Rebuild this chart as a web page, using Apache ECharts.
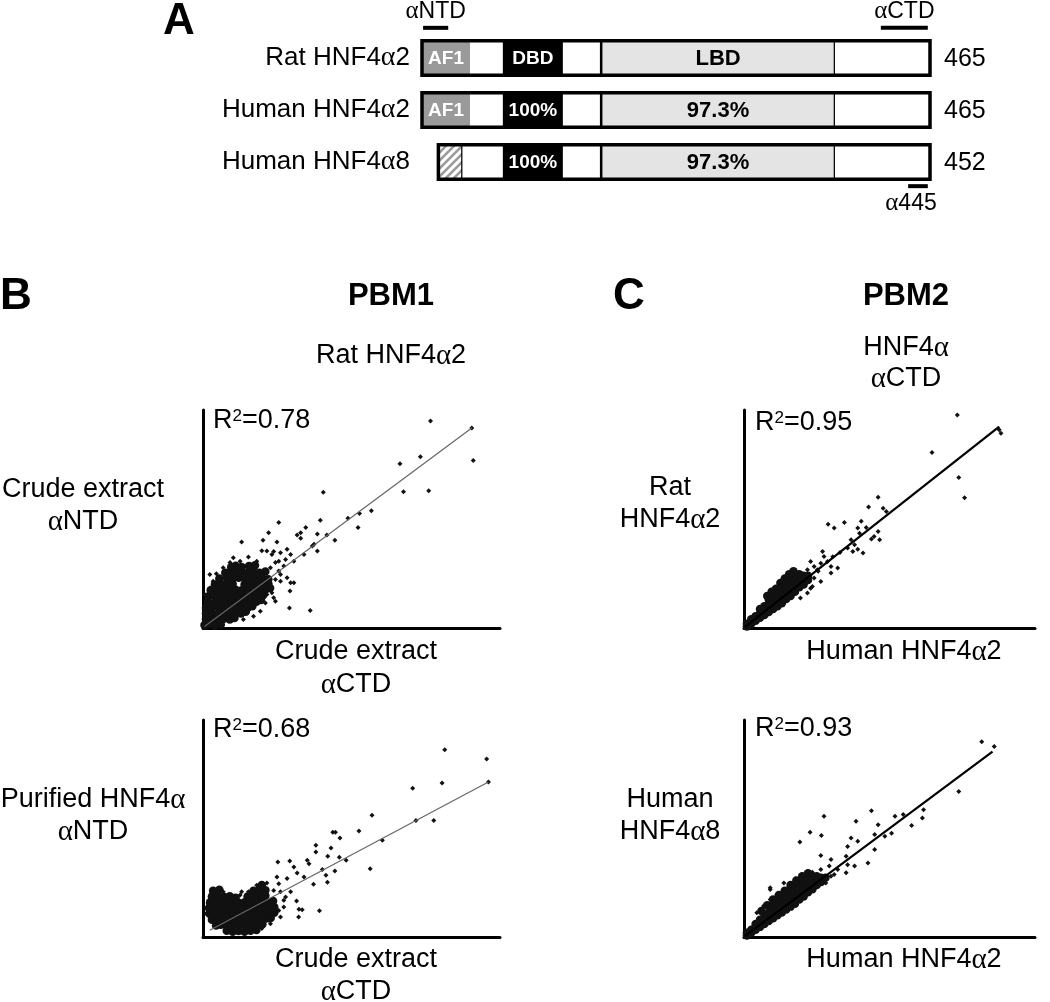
<!DOCTYPE html>
<html><head><meta charset="utf-8">
<script src="https://cdn.jsdelivr.net/npm/echarts@6/dist/echarts.min.js"></script>
<style>html,body{margin:0;padding:0;background:#fff}#c{width:1050px;height:1002px}</style>
</head><body><div id="c"></div>
<script>
// ---------- Panel A data (amino-acid positions in the alignment) ----------
const proteins = ['Rat HNF4α2', 'Human HNF4α2', 'Human HNF4α8'];
const proteinLengths = [465, 465, 452];
const boxStart = [0, 0, 15];
const boxEnd = [465, 465, 465];
// [row, start, end, kind, label]
const domains = [
  [0, 0, 44, 'af1', 'AF1'], [0, 44, 74, 'plain', ''], [0, 74, 129, 'dbd', 'DBD'], [0, 129, 164, 'plain', ''], [0, 164, 378, 'lbd', 'LBD'], [0, 378, 465, 'plain', ''],
  [1, 0, 44, 'af1', 'AF1'], [1, 44, 74, 'plain', ''], [1, 74, 129, 'dbd', '100%'], [1, 129, 164, 'plain', ''], [1, 164, 378, 'lbd', '97.3%'], [1, 378, 465, 'plain', ''],
  [2, 15, 37, 'hatch', ''], [2, 37, 74, 'plain', ''], [2, 74, 129, 'dbd', '100%'], [2, 129, 164, 'plain', ''], [2, 164, 378, 'lbd', '97.3%'], [2, 378, 465, 'plain', '']
];
// [row, start, end, side, label]
const epitopes = [
  [0, 1, 24, 'above', 'αNTD'],
  [0, 420, 463, 'above', 'αCTD'],
  [2, 445, 463, 'below', 'α445']
];

// ---------- Panel B top: crude αNTD vs crude αCTD ----------
const bTopPoints = [[76.6,71.2],[90.5,68.8],[91.0,57.6],[66.3,56.5],[73.2,58.9],[67.5,46.9],[76.0,47.2],[40.5,46.7],[56.7,40.3],[52.7,39.4],[48.8,37.8],[52.2,34.6],[39.5,37.1],[44.4,30.2],[41.7,32.0],[38.5,32.3],[25.5,36.3],[22.1,32.8],[20.2,30.2],[13.0,29.6],[24.9,29.6],[34.6,34.6],[31.7,32.0],[32.9,32.8],[37.4,28.8],[36.8,28.2],[38.5,26.5],[34.0,25.3],[29.5,25.3],[28.3,27.1],[26.1,25.9],[23.8,26.3],[21.5,26.5],[15.3,24.4],[30.6,23.0],[29.5,15.6],[30.6,15.6],[26.1,16.1],[29.3,12.7],[29.1,6.9],[36.1,6.0],[23.2,12.1],[24.4,9.2],[21.0,8.6],[23.8,10.4],[9.1,22.5],[4.5,18.7],[2.3,13.8],[18.1,23.0],[17.0,20.7],[19.8,18.4],[25.5,19.6],[27.2,21.3],[24.4,22.5],[21.0,16.1],[18.1,13.8],[19.3,10.4],[21.5,11.5],[32.9,30.9],
[19.8,26.6],[23.2,25.3],[25.5,23.0],[27.8,23.6],[22.7,20.7],[26.1,18.4],[24.4,16.7],[28.3,17.3],[21.5,17.3],[12.5,23.0],[10.2,24.2],[6.8,20.7],[2.3,18.4],[3.4,16.1],[0.6,11.5],[19.3,5.8],[17.0,4.0],[13.6,2.9]];
const bTopCore = [[0.5,1],[2,1.4],[4,0.8],[6,1.2],
[1,3],[3,3.3],[5,2.8],[7,3.2],[9,2.9],[10.6,3.4],
[1,5],[3,5.2],[5,4.8],[7,5.3],[9,4.9],[11,5.2],[12.8,5],[14.4,5.6],
[1,7],[3,7],[5,7.2],[7,6.8],[9,7.1],[11,7],[13,7.2],[15,6.9],[16.6,7.5],
[1.6,9],[4,9],[6,9.2],[8,8.9],[10,9],[12,9.1],[14,8.9],[16,9.2],[18,9],[19.5,9.6],
[2,11],[4,11.2],[6,11],[8,11],[10,11.1],[12,11],[14,11],[16,11.2],[18,11],[20.2,11.3],
[2.6,13],[5,13.1],[7,12.9],[9,13],[11,13.2],[13,13],[15,13],[17,13.1],[19,12.9],[21,13.2],[22.6,13.8],
[4,15],[6,15.2],[8,15],[10,15.1],[14,15],[16,15.2],[18,15],[20,15.1],[22,15.3],
[5.5,17],[8,17.2],[10,17],[12,17.3],[14,17],[16,17.1],[18,17],[20,17.2],[22,16.8],
[7.5,19],[9,19.3],[11,19],[13,19.2],[15,19],[17,19.3],[19,19],[21,19.4],
[9.5,21],[11,21.4],[13,21],[15.5,21.3],[17.5,21.6]];
const bTopFit = [[0.5,0.5],[90.5,68.8]];

// ---------- Panel C top: rat HNF4α2 vs human HNF4α2 ----------
const cTopPoints = [[73.3,73.3],[87.7,68.2],[88.3,67.0],[64.6,60.4],[73.8,51.8],[75.8,44.8],[46.1,45.0],[42.8,41.6],[47.8,41.2],[48.9,40.1],[34.5,36.3],[28.9,35.7],[31.0,34.4],[40.3,36.7],[39.1,34.4],[42.0,34.6],[39.7,32.6],[46.1,33.2],[44.7,31.5],[46.6,30.4],[43.8,30.6],[36.8,30.4],[38.0,28.6],[35.6,27.5],[37.4,26.3],[40.9,25.8],[39.1,27.1],[27.0,26.3],[27.5,24.6],[28.7,22.9],[29.9,21.2],[26.4,22.3],[22.9,22.9],[24.1,21.2],[21.8,20.0],[25.2,20.0],[16.5,19.1],[15.4,17.2],[12.5,15.5],[19.4,18.3],[18.9,14.3],[20.6,15.5],[22.9,13.7],[21.8,12.0],[19.4,10.3],[25.5,19.5],[30.5,24.5],[33.0,26.0],
[21.8,16.6],[24.1,17.2],[18.3,16.0],[14.8,16.0],[10.2,11.5],[23.5,14.3],[26.4,16.0],[29.9,18.9],[32.2,20.6]];
const cTopCore = [[1,0.5],[1,1.5],[2.5,1.5],[2.5,3],[4,2.5],[4,4],[5.5,3.5],[5.5,5],[5.5,6.5],
[7,4.5],[7,6],[7,7.5],[8.5,5.5],[8.5,7],[8.5,8.5],[8.5,10],[10,6.5],[10,8],[10,9.5],[10,11],
[11.5,7.5],[11.5,9],[11.5,10.5],[11.5,12],[13,8.5],[13,10],[13,11.5],[13,13],[13,14.5],
[14.5,10],[14.5,11.5],[14.5,13],[14.5,14.5],[14.5,16],[16,11],[16,12.5],[16,14],[16,15.5],[16,17],
[17.5,12.5],[17.5,14],[17.5,15.5],[17.5,17],[19,14],[19,15.5],[19,17],[19,18.5],
[20.5,15],[20.5,16.5],[20.5,18],[22,16.5],[22,18],
[8,11],[9.5,12.5],[11,13.5],[12.5,15.5],[14,17],[15.5,18.5],[17,19.5]];
const cTopFit = [[0.3,0.3],[87.7,69.3]];

// ---------- Panel B bottom: purified αNTD vs crude αCTD ----------
const bBotPoints = [[81.4,64.7],[95.5,61.5],[96.1,53.6],[80.5,53.2],[70.6,51.4],[71.7,40.3],[77.7,40.3],[56.9,42.1],[52.5,36.6],[43.7,36.2],[44.6,36.2],[46.1,34.2],[60.4,33.4],[38.0,31.7],[43.1,30.8],[38.0,29.4],[42.0,27.9],[45.9,27.6],[48.2,26.5],[35.1,26.5],[35.7,25.3],[25.2,25.9],[29.2,26.3],[30.6,24.2],[56.3,23.6],[44.4,22.8],[40.2,23.3],[41.4,21.3],[41.9,18.9],[37.2,18.2],[34.0,20.7],[31.7,22.1],[28.3,20.2],[25.5,18.4],[31.5,12.4],[32.3,9.6],[33.4,9.4],[32.2,6.9],[39.2,9.1],[29.5,15.6],[27.8,13.8],[27.2,10.4],[23.8,8.1],[22.1,5.8],[13.0,15.6],[21.5,18.7],[18.1,17.9],[23.8,16.1],[24.9,20.7],
[4.0,16.1],[6.8,15.6],[12.5,14.5],[15.3,15.6],[26.1,15.6],[27.2,12.7],[25.5,9.2],[26.1,6.9],[22.7,4.6],[19.8,2.9],[1.7,11.5],[1.1,8.1]];
const bBotCore = [[8,2.2],[10,1.8],[12,2.1],[14,1.8],[16,2.2],[18,2.4],
[4.4,4],[6,4.2],[8,3.9],[10,4.1],[12,4],[14,4.2],[16,3.9],[18,4.1],[20,4.4],
[3,6],[5,6.1],[7,5.9],[9,6],[11,6.2],[13,6],[15,5.8],[17,6.1],[19,6],[21,6.3],[22.8,6.6],
[2.2,8],[4,8.1],[6,7.9],[8,8],[10,8.2],[12,8],[14,7.9],[16,8.1],[18,8],[20,8.2],[22,8],[24,8.4],
[2,10],[4,10.2],[6,9.9],[8,10],[10,10.1],[12,9.9],[14,10],[16,10.2],[18,10],[20,9.9],[22,10.1],[24,10.3],
[2.4,12],[4,12.2],[6,11.9],[8,12],[10,12.2],[12,11.8],[14,12],[16,12.1],[18,12],[20,12.2],[22,11.8],[23.6,12.4],
[3,14],[5,14.2],[7,13.9],[9,14.1],[11,13.6],[15,14],[17,14.2],[19,14],[21,14.3],
[3.4,16],[5.5,16.3],[17,16],[19,16.4],[21,16.2],[19.8,18]];
const bBotFit = [[2.3,2.3],[96.1,53.6]];

// ---------- Panel C bottom: human HNF4α8 vs human HNF4α2 ----------
const cBotPoints = [[81.7,67.5],[86.0,65.8],[73.8,50.3],[61.7,44.0],[61.3,41.1],[57.6,38.5],[54.7,42.3],[51.9,41.7],[43.8,43.6],[46.1,38.8],[38.5,40.0],[36.8,34.2],[35.6,31.3],[39.1,33.1],[44.9,35.4],[48.4,34.8],[50.7,35.9],[44.9,30.2],[42.6,25.6],[27.5,41.7],[22.7,36.2],[26.6,35.1],[19.2,32.8],[26.4,28.2],[35.1,27.9],[35.6,25.0],[38.0,24.5],[35.1,22.2],[29.9,26.8],[29.3,24.5],[23.5,22.4],[26.4,23.3],[32.2,23.3],[31.0,21.6],[27.0,19.9],[21.2,19.3],[13.7,18.7],[9.0,17.0],[16.0,17.6],[9.0,13.0],[17.7,20.1],[20.0,21.6],
[9.0,16.4],[11.3,14.7],[13.7,16.4],[16.0,18.1],[22.3,21.6],[25.2,20.4],[28.1,18.7],[29.9,21.0],[24.7,17.2],[21.8,15.3],[6.7,10.7],[4.4,8.4]];
const cBotCore = [[1,0.5],[1,1.5],[2.5,1.5],[2.5,2.5],[4,2.5],[4,3.5],[4,4.5],[5.5,3.5],[5.5,4.5],[5.5,6],
[7,4.5],[7,5.5],[7,7],[8.5,5.5],[8.5,7],[8.5,8.5],[10,6.5],[10,8],[10,9.5],[10,11],
[11.5,7.5],[11.5,9],[11.5,10.5],[11.5,12],[13,8.5],[13,10],[13,11.5],[13,13],
[14.5,9.5],[14.5,11],[14.5,12.5],[14.5,14],[16,10.5],[16,12],[16,13.5],[16,15],[16,16.5],
[17.5,11.5],[17.5,13],[17.5,14.5],[17.5,16],[17.5,17.5],[19,13],[19,14.5],[19,16],[19,17.5],[19,19],
[20.5,14],[20.5,15.5],[20.5,17],[20.5,18.5],[20.5,20],[22,15.5],[22,17],[22,18.5],[22,20],
[23.5,16.5],[23.5,18],[23.5,19.5],[23.5,21],[25,18],[25,19.5],[25,21],[26.5,19],[26.5,20.5],[28,20.5],
[6,9],[8,11],[10,13],[12,14.5],[14,16],[16,18],[18,19.5],[20,21],[22,22]];
const cBotFit = [[0.3,0.3],[85.4,64.1]];

// ---------- rendering ----------
const SANS = 'Liberation Sans';
const SERIF = 'Liberation Serif';
function richA(s) { return s.replace(/α/g, '{a|α}').replace(/\^2/g, '{s|2}'); }
function T(text, x, y, o) {
  o = o || {};
  const size = o.size || 27;
  return {
    type: 'text', x: x, y: y, z: 10,
    style: {
      text: richA(text), fill: '#000', fontFamily: SANS, fontSize: size,
      fontWeight: o.bold ? 'bold' : 'normal', align: o.align || 'center', verticalAlign: 'middle',
      rich: {
        a: { fontFamily: SERIF, fontSize: size + 2, fill: '#000' },
        s: { fontFamily: SANS, fontSize: Math.round(size * 0.62), fill: '#000', verticalAlign: 'top', lineHeight: 20 }
      }
    }
  };
}

// hatch pattern canvas
const hc = document.createElement('canvas');
hc.width = 8; hc.height = 8;
const hx = hc.getContext('2d');
hx.fillStyle = '#fff'; hx.fillRect(0, 0, 8, 8);
hx.strokeStyle = '#9a9a9a'; hx.lineWidth = 2.6;
hx.beginPath(); hx.moveTo(-2, 10); hx.lineTo(10, -2); hx.stroke();
hx.beginPath(); hx.moveTo(-2, 2); hx.lineTo(2, -2); hx.stroke();
hx.beginPath(); hx.moveTo(6, 10); hx.lineTo(10, 6); hx.stroke();

const fills = { af1: '#9a9a9a', plain: '#ffffff', dbd: '#000000', lbd: '#e4e4e4', hatch: { image: hc, repeat: 'repeat' } };
const textFill = { af1: '#fff', dbd: '#fff', lbd: '#000' };
const textSize = { af1: 19, dbd: 19, lbd: 22 };
const BOXFRAC = 0.66;

const scatterGrids = [
  { left: 203, top: 410, width: 297, height: 218 },
  { left: 744, top: 410, width: 291, height: 218 },
  { left: 203, top: 720, width: 297, height: 217 },
  { left: 744, top: 720, width: 291, height: 217 }
];
const panels = [
  { pts: bTopPoints, core: bTopCore, fit: bTopFit, thin: true },
  { pts: cTopPoints, core: cTopCore, fit: cTopFit, thin: false },
  { pts: bBotPoints, core: bBotCore, fit: bBotFit, thin: true },
  { pts: cBotPoints, core: cBotCore, fit: cBotFit, thin: false }
];

const grid = scatterGrids.concat([{ left: 422, top: 32, width: 508, height: 156 }]);
const xAxis = [], yAxis = [], series = [];
scatterGrids.forEach((g, i) => {
  xAxis.push({ type: 'value', gridIndex: i, min: 0, max: 100,
    axisLine: { show: true, onZero: false, lineStyle: { color: '#000', width: 3 } },
    axisTick: { show: false }, axisLabel: { show: false }, splitLine: { show: false } });
  yAxis.push({ type: 'value', gridIndex: i, min: 0, max: 75,
    axisLine: { show: true, onZero: false, lineStyle: { color: '#000', width: 3 } },
    axisTick: { show: false }, axisLabel: { show: false }, splitLine: { show: false } });
  const p = panels[i];
  series.push({ type: 'scatter', xAxisIndex: i, yAxisIndex: i, data: p.core, symbol: 'circle', symbolSize: 8.5,
    itemStyle: { color: '#111', opacity: 1 }, silent: true, z: 2 });
  series.push({ type: 'scatter', xAxisIndex: i, yAxisIndex: i, data: p.pts, symbol: 'diamond', symbolSize: 5,
    itemStyle: { color: '#111', opacity: 1 }, silent: true, z: 3 });
  series.push({ type: 'line', xAxisIndex: i, yAxisIndex: i, data: p.fit, symbol: 'none',
    lineStyle: { color: p.thin ? '#666' : '#000', width: p.thin ? 1.2 : 2.2 }, silent: true, z: 4 });
});

// Panel A axes
xAxis.push({ type: 'value', gridIndex: 4, min: 0, max: 465, show: false });
yAxis.push({ type: 'category', gridIndex: 4, data: proteins, inverse: true,
  axisLine: { show: false }, axisTick: { show: false }, splitLine: { show: false },
  axisLabel: { show: true, color: '#000', fontFamily: SANS, fontSize: 26, margin: 12,
    formatter: v => richA(v), rich: { a: { fontFamily: SERIF, fontSize: 28, color: '#000' } } } });

series.push({
  type: 'custom', xAxisIndex: 4, yAxisIndex: 4, z: 5,
  data: domains.map(d => [d[1], d[0], d[2]]),
  encode: { x: [0, 2], y: 1 },
  renderItem: function (params, api) {
    const d = domains[params.dataIndex];
    const p0 = api.coord([d[1], d[0]]);
    const p1 = api.coord([d[2], d[0]]);
    const h = api.size([0, 1])[1] * BOXFRAC;
    const kids = [{
      type: 'rect',
      shape: { x: p0[0], y: p0[1] - h / 2, width: p1[0] - p0[0], height: h },
      style: { fill: fills[d[3]], stroke: (d[3] === 'lbd' || d[3] === 'hatch') ? '#000' : null, lineWidth: 2.5 }
    }];
    if (d[4]) kids.push({
      type: 'text',
      style: { text: d[4], x: (p0[0] + p1[0]) / 2, y: p0[1] + 1, align: 'center', verticalAlign: 'middle',
        fill: textFill[d[3]], fontFamily: SANS, fontWeight: 'bold', fontSize: textSize[d[3]] }
    });
    return { type: 'group', children: kids };
  }
});
series.push({
  type: 'custom', xAxisIndex: 4, yAxisIndex: 4, z: 6,
  data: proteins.map((p, i) => [boxStart[i], i, boxEnd[i]]),
  encode: { x: [0, 2], y: 1 },
  renderItem: function (params, api) {
    const i = params.dataIndex;
    const p0 = api.coord([boxStart[i], i]);
    const p1 = api.coord([boxEnd[i], i]);
    const h = api.size([0, 1])[1] * BOXFRAC;
    return { type: 'group', children: [
      { type: 'rect', shape: { x: p0[0], y: p0[1] - h / 2, width: p1[0] - p0[0], height: h },
        style: { fill: null, stroke: '#000', lineWidth: 3.5 } },
      { type: 'text', style: { text: String(proteinLengths[i]), x: p1[0] + 14, y: p0[1] + 1, align: 'left',
        verticalAlign: 'middle', fill: '#000', fontFamily: SANS, fontSize: 25 } }
    ] };
  }
});
series.push({
  type: 'custom', xAxisIndex: 4, yAxisIndex: 4, z: 6,
  data: epitopes.map(e => [e[1], e[0], e[2]]),
  encode: { x: [0, 2], y: 1 },
  renderItem: function (params, api) {
    const e = epitopes[params.dataIndex];
    const p0 = api.coord([e[1], e[0]]);
    const p1 = api.coord([e[2], e[0]]);
    const h = api.size([0, 1])[1] * BOXFRAC;
    const above = e[3] === 'above';
    const yb = above ? p0[1] - h / 2 - 13 : p0[1] + h / 2 + 7;
    const yt = above ? yb - 16 : yb + 17;
    const xt = (p0[0] + p1[0]) / 2 + (above ? 0 : -7);
    return { type: 'group', children: [
      { type: 'line', shape: { x1: p0[0], y1: yb, x2: p1[0], y2: yb }, style: { stroke: '#000', lineWidth: 4 } },
      { type: 'text', style: { text: richA(e[4]), x: xt, y: yt, align: 'center', verticalAlign: 'middle',
        fill: '#000', fontFamily: SANS, fontSize: 23, rich: { a: { fontFamily: SERIF, fontSize: 25, fill: '#000' } } } }
    ] };
  }
});

const graphic = [
  T('A', 163, 22, { size: 44, bold: true, align: 'left' }),
  T('B', 0, 297, { size: 44, bold: true, align: 'left' }),
  T('C', 613, 297, { size: 44, bold: true, align: 'left' }),
  T('PBM1', 391, 296, { size: 31, bold: true }),
  T('PBM2', 906, 296, { size: 31, bold: true }),
  T('Rat HNF4α2', 391, 356),
  T('HNF4α', 906, 348),
  T('αCTD', 906, 379),
  T('R^2=0.78', 213, 421, { align: 'left' }),
  T('R^2=0.95', 755, 423, { align: 'left' }),
  T('R^2=0.68', 213, 730, { align: 'left' }),
  T('R^2=0.93', 755, 729, { align: 'left' }),
  T('Crude extract', 83, 490),
  T('αNTD', 83, 522),
  T('Purified HNF4α', 93, 800),
  T('αNTD', 93, 832),
  T('Rat', 670, 488),
  T('HNF4α2', 670, 520),
  T('Human', 670, 800),
  T('HNF4α8', 670, 832),
  T('Crude extract', 356, 652),
  T('αCTD', 356, 685),
  T('Human HNF4α2', 904, 652),
  T('Crude extract', 356, 960),
  T('αCTD', 356, 992),
  T('Human HNF4α2', 904, 960)
];

const chart = echarts.init(document.getElementById('c'), null, { renderer: 'canvas', devicePixelRatio: 1 });
chart.setOption({
  animation: false,
  backgroundColor: '#fff',
  textStyle: { fontFamily: SANS },
  grid: grid, xAxis: xAxis, yAxis: yAxis, series: series, graphic: graphic
});
</script>
</body></html>
